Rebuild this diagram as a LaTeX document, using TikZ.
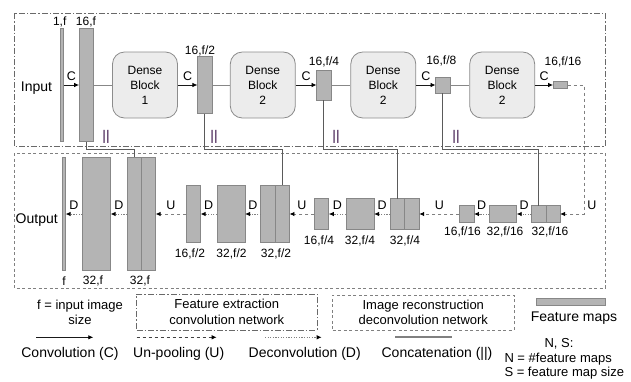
\documentclass[tikz,border=0pt]{standalone}
\usepackage{fontspec}
\setmainfont{Liberation Sans}
\usetikzlibrary{arrows.meta,positioning,calc}
\definecolor{BarFill}{RGB}{180,180,180}
\definecolor{BarEdge}{RGB}{135,135,135}
\definecolor{BlockFill}{RGB}{236,236,236}
\definecolor{BlockEdge}{RGB}{140,140,140}
\definecolor{FrameColor}{RGB}{105,105,105}
\definecolor{LinkColor}{RGB}{90,90,90}
\definecolor{MarkColor}{RGB}{60,22,75}

\tikzset{
  fmap/.style={draw=BarEdge, fill=BarFill, line width=0.8pt, inner sep=0pt, outer sep=0pt, minimum width=14.5pt},
  denseblock/.style={draw=BlockEdge, fill=BlockFill, line width=0.8pt, rounded corners=12pt, minimum width=65pt, minimum height=66pt, align=center, font=\fontsize{12}{15}\selectfont},
  conv/.style={->, draw=black!90, line width=0.8pt},
  unpool/.style={->, draw=gray, line width=0.9pt, dash pattern=on 3.5pt off 2.5pt},
  deconv/.style={->, draw=gray, line width=0.9pt, dash pattern=on 1.2pt off 1.4pt},
  bridge/.style={draw=BarEdge, line width=0.9pt},
  concat/.style={draw=LinkColor, line width=0.9pt},
  oplabel/.style={font=\fontsize{12.5}{14}\selectfont, inner sep=1pt, above=3pt},
  sizelabel/.style={font=\fontsize{12}{14}\selectfont, inner sep=1pt},
  catmark/.style={font=\fontsize{14}{16}\selectfont, text=MarkColor, inner sep=0pt},
  inframe/.style={draw=FrameColor, line width=0.9pt, dash pattern=on 6pt off 2pt on 1.5pt off 2pt},
  outframe/.style={draw=gray, line width=0.9pt, dash pattern=on 3pt off 2.5pt},
  legendtext/.style={font=\fontsize{14}{16}\selectfont, inner sep=0pt}
}

\begin{document}
\begin{tikzpicture}[x=1pt, y=-1pt, >={Latex[length=5pt,width=4.5pt,color=black]}, font=\fontsize{12}{15}\selectfont]
  \useasboundingbox (0,0) rectangle (631,381);

  % frames
  \draw[inframe] (14,13) rectangle (605,146);
  \draw[outframe] (14,153) rectangle (605,288);

  % encoder
  \node[legendtext, anchor=base] (inlab) at (36.5,91.5) {Input};
  \node[fmap, minimum width=3pt, minimum height=113.4pt] (in0) at (62.2,85) {};
  \node[fmap, minimum height=113.4pt] (in1) at (86.3,85) {};
  \node[denseblock] (db1) at (145,85) {Dense\\Block\\1};
  \node[fmap, minimum height=57.3pt] (in2) at (204.7,85) {};
  \node[denseblock] (db2) at (262.8,85) {Dense\\Block\\2};
  \node[fmap, minimum height=30pt] (in3) at (323.8,85) {};
  \node[denseblock] (db3) at (383.3,85) {Dense\\Block\\2};
  \node[fmap, minimum height=16pt] (in4) at (442.8,85) {};
  \node[denseblock] (db4) at (502.2,85) {Dense\\Block\\2};
  \node[fmap, minimum height=7.6pt] (in5) at (560.3,85) {};

  \node[sizelabel] (t0) at (59.7,22) {1,f};
  \node[sizelabel] (t1) at (86,22) {16,f};
  \node[sizelabel] (t2) at (200,51) {16,f/2};
  \node[sizelabel] (t3) at (324,62) {16,f/4};
  \node[sizelabel] (t4) at (441.3,61) {16,f/8};
  \node[sizelabel] (t5) at (563,62) {16,f/16};

  \draw[conv] (in0.east) -- node[oplabel] {C} (in1.west);
  \draw[bridge] (in1.east) -- (db1.west);
  \draw[conv] (db1.east) -- node[oplabel] {C} (in2.west);
  \draw[bridge] (in2.east) -- (db2.west);
  \draw[conv] (db2.east) -- node[oplabel] {C} (in3.west);
  \draw[bridge] (in3.east) -- (db3.west);
  \draw[conv] (db3.east) -- node[oplabel] {C} (in4.west);
  \draw[bridge] (in4.east) -- (db4.west);
  \draw[conv] (db4.east) -- node[oplabel] {C} (in5.west);

  % decoder
  \node[legendtext, anchor=base] (outlab) at (36.7,223) {Output};
  \node[fmap, minimum width=3.5pt, minimum height=113.7pt] (out0) at (63.8,214) {};
  \node[fmap, minimum width=28.2pt, minimum height=113.7pt] (out1) at (96.5,214) {};
  \node[fmap, minimum width=14.2pt, minimum height=113.7pt] (oc1a) at (134.3,214) {};
  \node[fmap, minimum width=14.2pt, minimum height=113.7pt, right=0pt of oc1a] (oc1b) {};
  \node[fmap, minimum height=57.3pt] (out2) at (193.3,214) {};
  \node[fmap, minimum width=28.2pt, minimum height=57.3pt] (out3) at (231,214) {};
  \node[fmap, minimum width=14.3pt, minimum height=57.3pt] (oc2a) at (268,214) {};
  \node[fmap, minimum width=14.3pt, minimum height=57.3pt, right=0pt of oc2a] (oc2b) {};
  \node[fmap, minimum height=31pt] (out4) at (321.5,214) {};
  \node[fmap, minimum width=28.2pt, minimum height=31pt] (out5) at (360,214) {};
  \node[fmap, minimum width=14.6pt, minimum height=31pt] (oc3a) at (397.5,214) {};
  \node[fmap, minimum width=14.4pt, minimum height=31pt, right=0pt of oc3a] (oc3b) {};
  \node[fmap, minimum height=16.6pt] (out6) at (466.7,214) {};
  \node[fmap, minimum width=27.4pt, minimum height=16.6pt] (out7) at (503,214) {};
  \node[fmap, minimum width=14.3pt, minimum height=16.6pt] (oc4a) at (538.8,214) {};
  \node[fmap, minimum width=14.1pt, minimum height=16.6pt, right=0pt of oc4a] (oc4b) {};

  \node[sizelabel] (b0) at (64,281) {f};
  \node[sizelabel] (b1) at (93,281) {32,f};
  \node[sizelabel] (b2) at (140,281) {32,f};
  \node[sizelabel] (b3) at (190,254) {16,f/2};
  \node[sizelabel] (b4) at (231.5,254) {32,f/2};
  \node[sizelabel] (b5) at (276,254) {32,f/2};
  \node[sizelabel] (b6) at (319,241) {16,f/4};
  \node[sizelabel] (b7) at (360,241) {32,f/4};
  \node[sizelabel] (b8) at (405,241) {32,f/4};
  \node[sizelabel] (b9) at (462.5,231.5) {16,f/16};
  \node[sizelabel] (b10) at (505,231.5) {32,f/16};
  \node[sizelabel] (b11) at (550,231.5) {32,f/16};

  \draw[deconv] (out1.west) -- node[oplabel] {D} (out0.east);
  \draw[deconv] (oc1a.west) -- node[oplabel] {D} (out1.east);
  \draw[unpool] (out2.west) -- node[oplabel] {U} (oc1b.east);
  \draw[deconv] (out3.west) -- node[oplabel] {D} (out2.east);
  \draw[deconv] (oc2a.west) -- node[oplabel] {D} (out3.east);
  \draw[unpool] (out4.west) -- node[oplabel] {U} (oc2b.east);
  \draw[deconv] (out5.west) -- node[oplabel] {D} (out4.east);
  \draw[deconv] (oc3a.west) -- node[oplabel] {D} (out5.east);
  \draw[unpool] (out6.west) -- node[oplabel] {U} (oc3b.east);
  \draw[deconv] (out7.west) -- node[oplabel] {D} (out6.east);
  \draw[deconv] (oc4a.west) -- node[oplabel] {D} (out7.east);

  % bottleneck to decoder
  \coordinate (ucorner) at (584,214);
  \draw[unpool] (in5.east) -| (ucorner) -- (oc4b.east);
  \node[font=\fontsize{12.5}{14}\selectfont, inner sep=0pt] (ulast) at (592,205) {U};

  % skip connections
  \coordinate (lane) at (0,149.3);
  \draw[concat] (in1.south) -- (in1.south |- lane) -| (oc1a.north);
  \draw[concat] (in2.south) -- (in2.south |- lane) -| (oc2b.north);
  \draw[concat] (in3.south) -- (in3.south |- lane) -| (oc3a.north);
  \draw[concat] (in4.south) -- (in4.south |- lane) -| (oc4a.north);
  \node[catmark] (m1) at (106,137) {||};
  \node[catmark] (m2) at (214,137) {||};
  \node[catmark] (m3) at (336,137) {||};
  \node[catmark] (m4) at (456,137) {||};

  % legend
  \node[align=center, font=\fontsize{13}{15}\selectfont] (fnote) at (80,312) {f = input image\\size};
  \node[inframe, minimum width=180.3pt, minimum height=36pt, align=center, font=\fontsize{13}{16.5}\selectfont] (encbox) at (226.8,312) {Feature extraction\\convolution network};
  \node[outframe, minimum width=181.3pt, minimum height=35pt, align=center, font=\fontsize{13}{15.5}\selectfont] (decbox) at (423.3,312.5) {Image reconstruction\\deconvolution network};
  \node[fmap, minimum width=69pt, minimum height=6.7pt] (fmkey) at (571.2,301.7) {};
  \node[legendtext] (fmtext) at (574,318) {Feature maps};
  \node[font=\fontsize{13}{14.5}\selectfont] (nskey) at (559,344) {N, S:};
  \node[font=\fontsize{13}{14.5}\selectfont, align=left, anchor=west, inner sep=0pt] (nsdef) at (504.3,366) {N = \#feature maps\\S = feature map size};

  \coordinate (k1s) at (36,337.3);
  \coordinate (k1e) at (93.3,337.3);
  \draw[conv] (k1s) -- (k1e);
  \node[legendtext] (k1t) at (70,354) {Convolution (C)};
  \coordinate (k2s) at (136.7,337.3);
  \coordinate (k2e) at (216.7,337.3);
  \draw[unpool, draw=black!75] (k2s) -- (k2e);
  \node[legendtext] (k2t) at (178.7,354) {Un-pooling (U)};
  \coordinate (k3s) at (265,337.3);
  \coordinate (k3e) at (321.7,337.3);
  \draw[deconv] (k3s) -- (k3e);
  \node[legendtext] (k3t) at (304.7,354) {Deconvolution (D)};
  \coordinate (k4s) at (395,336.7);
  \coordinate (k4e) at (451.7,336.7);
  \draw[draw=gray, line width=1.8pt] (k4s) -- (k4e);
  \node[legendtext] (k4t) at (437,354) {Concatenation (||)};
\end{tikzpicture}
\end{document}
